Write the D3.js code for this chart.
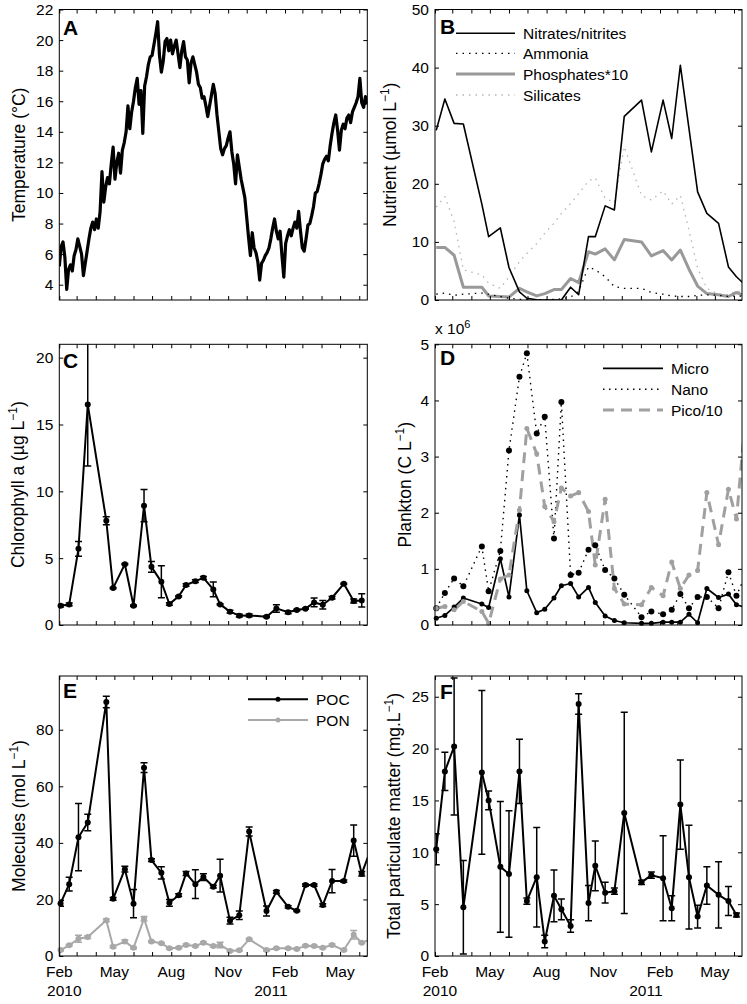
<!DOCTYPE html>
<html><head><meta charset="utf-8">
<script src="https://cdn.jsdelivr.net/npm/d3@7"></script>
<style>
body{margin:0;background:#fff}
text{font-family:"Liberation Sans",Arial,Helvetica,sans-serif;fill:#000}
</style>
</head><body>
<svg id="c" width="747" height="1004"></svg>
<script>
// ---------------- DATA ----------------
const sampleDates = ["2010-02-03","2010-02-17","2010-03-04","2010-03-19","2010-04-18","2010-04-29","2010-05-18","2010-06-01","2010-06-18","2010-06-30","2010-07-16","2010-07-29","2010-08-13","2010-08-25","2010-09-09","2010-09-22","2010-10-08","2010-10-19","2010-11-04","2010-11-19","2010-12-05","2011-01-02","2011-01-18","2011-02-06","2011-02-20","2011-03-06","2011-03-20","2011-04-03","2011-04-18","2011-05-07","2011-05-23","2011-06-05","2011-06-20"];

const tempStart = "2010-02-01";
const tempStepDays = 3;
const temperature = [5.2,6.5,6.8,5.8,3.7,5.0,5.3,4.9,5.9,6.3,7.0,6.5,6.0,4.6,5.4,6.2,7.0,7.7,8.1,7.6,8.3,7.7,8.8,11.4,9.4,10.4,11.0,10.6,11.9,13.0,10.9,12.0,12.6,11.3,12.8,13.3,14.0,15.7,14.2,15.3,16.0,16.9,17.5,15.8,16.7,13.9,17.0,17.6,18.4,18.9,19.0,19.7,20.4,21.2,19.0,17.9,18.6,19.9,20.1,19.3,20.0,19.1,19.6,20.0,19.1,18.2,19.3,19.9,18.9,18.7,17.2,18.5,18.9,18.4,17.9,17.1,16.9,16.2,16.3,15.7,15.0,15.7,16.4,17.1,16.5,15.1,14.0,12.9,12.5,12.9,13.1,13.6,14.0,12.7,11.9,10.6,12.5,11.7,10.9,10.3,9.7,8.4,7.1,5.9,7.4,6.4,6.1,5.5,4.3,5.4,5.6,5.9,6.1,6.4,7.0,7.7,8.3,7.5,7.0,7.5,5.9,4.5,6.7,7.2,7.6,7.2,7.7,8.1,7.7,8.8,7.5,6.4,6.2,7.0,7.9,8.0,8.5,9.1,10.0,10.1,10.6,11.2,11.9,12.2,12.4,12.1,13.1,13.9,14.6,15.1,14.1,12.8,14.1,14.5,14.2,14.9,15.1,14.6,15.3,15.6,15.9,16.3,17.5,15.9,15.6,16.3,15.8];

const nitrates   = [29.2,34.6,30.4,30.3,16.5,10.9,12.4,5.6,1.4,0.3,0.05,0,0,0,2.2,0.9,10.9,10.9,16.2,15.5,31.6,34.4,25.5,34.4,27.8,40.4,29.5,18.6,14.9,13.2,5.7,4.0,2.5];
const ammonia    = [1.0,1.2,0.8,1.0,1.2,1.0,0.6,0.3,0.1,0.05,0.05,0.05,0.1,0.2,0.5,1.5,5.7,5.2,4.0,2.3,2.0,2.0,1.3,1.0,0.7,0.6,0.6,0.8,0.9,0.8,0.6,0.7,0.6];
const phosphates = [9.05,9.05,7.7,2.2,2.2,0.7,0.6,0.5,2.0,1.4,0.7,1.1,1.8,1.8,3.7,3.0,8.3,7.9,8.8,6.9,10.4,10.0,7.6,8.5,6.9,8.6,5.3,2.4,1.1,0.9,0.6,1.3,0.6];
const silicates  = [16.0,17.8,13.5,5.2,4.3,2.9,2.0,4.0,6.6,8.0,9.7,11.5,13.2,14.9,16.6,18.3,20.5,21.0,17.5,16.8,26.4,18.0,17.2,18.8,16.5,18.0,12.0,5.5,2.0,1.0,0.9,1.6,1.2];

const chlorophyll    = [1.44,1.54,5.7,16.5,7.8,2.76,4.55,1.44,8.93,4.35,3.23,1.57,2.14,2.99,3.28,3.53,2.66,1.54,1.0,0.7,0.72,0.62,1.24,0.95,1.12,1.22,1.69,1.52,2.04,3.08,1.79,1.84];
const chlorophyllErr = [0.1,0.1,0.55,4.6,0.3,0.05,0.05,0.05,1.2,0.4,1.2,0.1,0.05,0.1,0.1,0.1,0.55,0.05,0.1,0.1,0.1,0.05,0.28,0.1,0.05,0.05,0.33,0.32,0.1,0.05,0.15,0.5];

// plankton, in units of 10^6 C L-1
const micro = [0.12,0.17,0.32,0.48,0.375,0.31,1.18,0.5,1.96,0.61,0.22,0.28,0.48,0.70,0.74,0.5,0.67,0.4,0.16,0.08,0.04,0.03,0.03,0.05,0.05,0.05,0.19,0.04,0.65,0.49,0.55,0.36,0.31];
const nano  = [0.3,0.57,0.83,0.69,1.40,0.6,1.32,3.11,4.42,4.84,3.41,3.71,1.54,3.97,0.89,0.93,1.34,1.42,0.98,0.83,0.54,0.14,0.24,0.19,0.27,0.55,0.3,0.5,0.5,0.3,0.94,0.52,0.9];
const pico  = [0.3,0.33,0.27,0.42,0.24,0.03,0.82,0.89,2.05,3.5,3.05,2.11,1.84,2.44,2.3,2.36,2.02,1.07,2.24,0.65,0.375,0.36,0.67,0.52,1.12,0.65,0.89,0.97,2.36,1.43,2.42,1.89,3.74];

const poc    = [18.6,25.4,42,47.2,89.8,20.2,30.7,18.5,66.6,33.9,29.4,18.8,21.5,29.2,25.4,27.9,24.5,28.4,12.5,14.4,44,15.9,22.7,17.4,16,25.1,25.1,18,26.5,26.5,40.8,29.1,37.9];
const pocErr = [1,2.4,11.9,2.9,2,0.5,1,5,1.7,0.5,2.2,1.2,0.5,0.7,5.1,1.2,0.5,5.8,1.2,1.5,1.6,1.8,0.5,0.4,0.3,0.4,0.4,0.5,4.1,0.4,5.5,0.8,0];
const pon    = [2.1,3.8,6.1,6.7,12.6,3.3,5.1,2.9,13.2,5.1,4.5,2.7,2.9,3.9,3.5,4.7,3.5,3.9,1.8,2.0,5.9,2.1,2.7,2.7,2.5,3.6,3.5,2.9,3.9,2.1,7.5,4.7,6.0];
const ponErr = [0.3,0.3,1.2,0.5,0.5,0.4,0.6,0.3,0.8,0.3,0.3,0.3,0.3,0.3,0.3,0.3,0.3,1.0,0.3,0.3,0.3,0.3,0.3,0.3,0.3,0.3,0.3,0.3,0.3,0.3,1.5,0.3,0];

const tpm    = [10.3,17.8,20.2,4.7,17.7,15,8.6,7.9,17.8,5.3,7.6,1.4,5.8,4.5,2.9,24.3,5.1,8.7,6.1,6.25,13.8,7.1,7.8,7.5,4.6,14.6,7.6,3.8,6.8,5.9,5.3,3.95];
const tpmErr = [1.5,1.85,6.6,4.5,7.9,0.9,6.3,6.1,3.1,0.3,4.8,0.6,2.5,1.0,0.6,1.0,1.7,2.4,1.0,0.3,9.7,0.2,0.3,4.1,1.2,4.3,5.0,1.1,1.8,3.2,1.4,0.2];

const monthLabels = ["Feb","May","Aug","Nov","Feb","May"];
const monthLabelDates = ["2010-02-01","2010-05-01","2010-08-01","2010-11-01","2011-02-01","2011-05-01"];
const yearLabels = ["2010","2011"];
const yearLabelDates = ["2010-02-01","2011-01-01"];

const nutrientLegend = ["Nitrates/nitrites","Ammonia","Phosphates*10","Silicates"];
const planktonLegend = ["Micro","Nano","Pico/10"];
const moleculeLegend = ["POC","PON"];

// ---------------- LAYOUT ----------------
const svg = d3.select("#c");
const parse = d3.timeParse("%Y-%m-%d");
const tStart = parse("2010-02-01"), tEnd = parse("2011-06-14");
const dates = sampleDates.map(parse);
const tempDates = temperature.map((v,i)=>d3.timeDay.offset(parse(tempStart), i*tempStepDays));

const COLS = [{x0:59.3,x1:367.3},{x0:435,x1:742}];
const ROWS = [{y0:9.5,y1:300},{y0:344.3,y1:625},{y0:676,y1:956}];
const TICK_FS = 15.5, LABEL_FS = 17.5;
const GRAY = "#999", LGRAY = "#b4b4b4";

let clipId = 0;
function makePanel(col,row,yDomain){
  const x = d3.scaleTime().domain([tStart,tEnd]).range([col.x0,col.x1]);
  const y = d3.scaleLinear().domain(yDomain).range([row.y1,row.y0]);
  const id = "clip"+(clipId++);
  svg.append("clipPath").attr("id",id).append("rect")
    .attr("x",col.x0).attr("y",row.y0).attr("width",col.x1-col.x0).attr("height",row.y1-row.y0);
  const g = svg.append("g");
  const plot = g.append("g").attr("clip-path",`url(#${id})`);
  const top = g.append("g");
  return {x,y,g,plot,top,col,row};
}
function drawAxes(p,yTicks,fmt){
  const {x,y,col,row} = p;
  const ax = p.g.append("g");
  const styleText = s=>{s.select(".domain").remove(); s.attr("font-family",null).attr("font-size",null);
    s.selectAll("text").attr("font-size",TICK_FS).attr("fill","#000");
    s.selectAll("line").attr("stroke","#000");};
  ax.append("g").attr("transform",`translate(${col.x0},0)`)
    .call(d3.axisLeft(y).tickValues(yTicks).tickSize(-4).tickPadding(6).tickFormat(fmt||d3.format("d"))).call(styleText);
  ax.append("g").attr("transform",`translate(${col.x1},0)`)
    .call(d3.axisRight(y).tickValues(yTicks).tickSize(-4).tickFormat("")).call(styleText);
  ax.append("g").attr("transform",`translate(0,${row.y1})`)
    .call(d3.axisBottom(x).ticks(d3.timeMonth.every(1)).tickSize(-4).tickFormat("")).call(styleText);
  ax.append("g").attr("transform",`translate(0,${row.y0})`)
    .call(d3.axisTop(x).ticks(d3.timeMonth.every(1)).tickSize(-4).tickFormat("")).call(styleText);
  ax.append("rect").attr("x",col.x0).attr("y",row.y0).attr("width",col.x1-col.x0).attr("height",row.y1-row.y0)
    .attr("fill","none").attr("stroke","#000").attr("stroke-width",1);
}
function letter(p,t,x,yb){
  p.top.append("text").attr("x",x).attr("y",yb).attr("font-size",21).attr("font-weight","bold").text(t);
}
function ylabel(cx,cy,main,sup,tail){
  const t = svg.append("text").attr("transform",`translate(${cx+6},${cy}) rotate(-90)`)
    .attr("text-anchor","middle").attr("font-size",LABEL_FS);
  t.append("tspan").text(main);
  if(sup){
    t.append("tspan").attr("dy",-7).attr("font-size",12).text(sup);
    t.append("tspan").attr("dy",7).text(tail);
  }
}
function xlabels(p){
  monthLabelDates.forEach((d,i)=>{
    p.g.append("text").attr("x",p.x(parse(d))).attr("y",977).attr("text-anchor","middle")
      .attr("font-size",TICK_FS).text(monthLabels[i]);
  });
  yearLabelDates.forEach((d,i)=>{
    p.g.append("text").attr("x",p.x(parse(d))+5).attr("y",996).attr("text-anchor","middle")
      .attr("font-size",TICK_FS).text(yearLabels[i]);
  });
}
function line(p,vals,ds,stroke,width,dash){
  const path = p.plot.append("path")
    .attr("d",d3.line().x((v,i)=>p.x(ds[i])).y(v=>p.y(v))(vals))
    .attr("fill","none").attr("stroke",stroke).attr("stroke-width",width)
    .attr("stroke-linejoin","round");
  if(dash) path.attr("stroke-dasharray",dash);
  return path;
}
function markers(p,vals,color,r){
  const pts = vals.map((v,i)=>({v,d:dates[i]})).filter(o=>o.d<=tEnd);
  p.g.append("g").selectAll("circle").data(pts).join("circle")
    .attr("cx",o=>p.x(o.d)).attr("cy",o=>p.y(o.v)).attr("r",r).attr("fill",color);
}
function errbars(p,vals,errs,color){
  const h=3.5;
  const pts = vals.map((v,i)=>({v,e:errs[i],d:dates[i]})).filter(o=>o.e>0 && o.d<=tEnd);
  p.plot.append("g").selectAll("path").data(pts).join("path")
    .attr("d",o=>{const xx=p.x(o.d), yt=p.y(o.v+o.e), yb=p.y(o.v-o.e);
      return `M${xx},${yt}V${yb}M${xx-h},${yt}H${xx+h}M${xx-h},${yb}H${xx+h}`;})
    .attr("stroke",color).attr("stroke-width",1.5).attr("fill","none");
}

// ---------------- PANEL A ----------------
const pA = makePanel(COLS[0],ROWS[0],[3,22]);
line(pA,temperature,tempDates,"#000",3.2);
drawAxes(pA,d3.range(4,23,2));
letter(pA,"A",63,35);
ylabel(18.5,(ROWS[0].y0+ROWS[0].y1)/2,"Temperature (°C)");

// ---------------- PANEL B ----------------
const pB = makePanel(COLS[1],ROWS[0],[0,50]);
line(pB,silicates,dates,LGRAY,1.3,"1.5,5");
line(pB,phosphates,dates,GRAY,3);
line(pB,ammonia,dates,"#000",1.3,"1.5,5");
line(pB,nitrates,dates,"#000",1.6);
drawAxes(pB,d3.range(0,51,10));
letter(pB,"B",440,34);
ylabel(390,(ROWS[0].y0+ROWS[0].y1)/2,"Nutrient (µmol L","−1",")");
const bStyles = [["#000",1.6,null],["#000",1.3,"1.5,5"],[GRAY,3,null],[LGRAY,1.3,"1.5,5"]];
const bRowY = [33.3,53.3,74,95];
nutrientLegend.forEach((t,i)=>{
  const l = pB.top.append("line").attr("x1",456).attr("x2",515).attr("y1",bRowY[i]).attr("y2",bRowY[i])
    .attr("stroke",bStyles[i][0]).attr("stroke-width",bStyles[i][1]);
  if(bStyles[i][2]) l.attr("stroke-dasharray",bStyles[i][2]);
  pB.top.append("text").attr("x",523).attr("y",bRowY[i]+5.5).attr("font-size",TICK_FS).text(t);
});

// ---------------- PANEL C ----------------
const pC = makePanel(COLS[0],ROWS[1],[0,21]);
errbars(pC,chlorophyll,chlorophyllErr,"#000");
line(pC,chlorophyll,dates.slice(0,chlorophyll.length),"#000",2);
markers(pC,chlorophyll,"#000",3);
drawAxes(pC,[0,5,10,15,20]);
letter(pC,"C",63,368);
ylabel(18,(ROWS[1].y0+ROWS[1].y1)/2,"Chlorophyll a (µg L","−1",")");

// ---------------- PANEL D ----------------
const pD = makePanel(COLS[1],ROWS[1],[0,5]);
line(pD,micro,dates,"#000",1.7);
line(pD,nano,dates,"#000",1.4,"1.5,4.5");
line(pD,pico,dates,"#a0a0a0",3,"11,7");
markers(pD,micro,"#000",2.5);
markers(pD,nano,"#000",3);
markers(pD,pico,"#a0a0a0",2.5);
drawAxes(pD,[0,1,2,3,4,5]);
letter(pD,"D",440,365);
ylabel(405,(ROWS[1].y0+ROWS[1].y1)/2,"Plankton (C L","−1",")");
const xt = svg.append("text").attr("x",435).attr("y",334).attr("font-size",TICK_FS);
xt.append("tspan").text("x 10");
xt.append("tspan").attr("dy",-6).attr("font-size",11).text("6");
const dStyles = [["#000",1.7,null],["#000",1.4,"1.5,4.5"],["#a0a0a0",3,"11,7"]];
const dRowY = [368.3,389.3,410];
planktonLegend.forEach((t,i)=>{
  const l = pD.top.append("line").attr("x1",603).attr("x2",663).attr("y1",dRowY[i]).attr("y2",dRowY[i])
    .attr("stroke",dStyles[i][0]).attr("stroke-width",dStyles[i][1]);
  if(dStyles[i][2]) l.attr("stroke-dasharray",dStyles[i][2]);
  pD.top.append("text").attr("x",671).attr("y",dRowY[i]+5.5).attr("font-size",TICK_FS).text(t);
});

// ---------------- PANEL E ----------------
const pE = makePanel(COLS[0],ROWS[2],[0,99]);
errbars(pE,pon,ponErr,"#a8a8a8");
line(pE,pon,dates,"#a8a8a8",2);
markers(pE,pon,"#a8a8a8",3);
errbars(pE,poc,pocErr,"#000");
line(pE,poc,dates,"#000",2);
markers(pE,poc,"#000",3);
drawAxes(pE,[0,20,40,60,80]);
letter(pE,"E",63,698);
ylabel(18.5,(ROWS[2].y0+ROWS[2].y1)/2,"Molecules (mol L","−1",")");
xlabels(pE);
const eCol = ["#000","#a8a8a8"], eRowY=[699.3,720];
moleculeLegend.forEach((t,i)=>{
  pE.top.append("line").attr("x1",248).attr("x2",308).attr("y1",eRowY[i]).attr("y2",eRowY[i])
    .attr("stroke",eCol[i]).attr("stroke-width",2);
  pE.top.append("circle").attr("cx",278).attr("cy",eRowY[i]).attr("r",2.5).attr("fill",eCol[i]);
  pE.top.append("text").attr("x",316).attr("y",eRowY[i]+5.5).attr("font-size",TICK_FS).text(t);
});

// ---------------- PANEL F ----------------
const pF = makePanel(COLS[1],ROWS[2],[0,27]);
errbars(pF,tpm,tpmErr,"#000");
line(pF,tpm,dates.slice(0,tpm.length),"#000",2);
markers(pF,tpm,"#000",3);
drawAxes(pF,[0,5,10,15,20,25]);
letter(pF,"F",440,699);
ylabel(393.5,(ROWS[2].y0+ROWS[2].y1)/2,"Total particulate matter (mg.L","−1",")");
xlabels(pF);
</script>
</body></html>
